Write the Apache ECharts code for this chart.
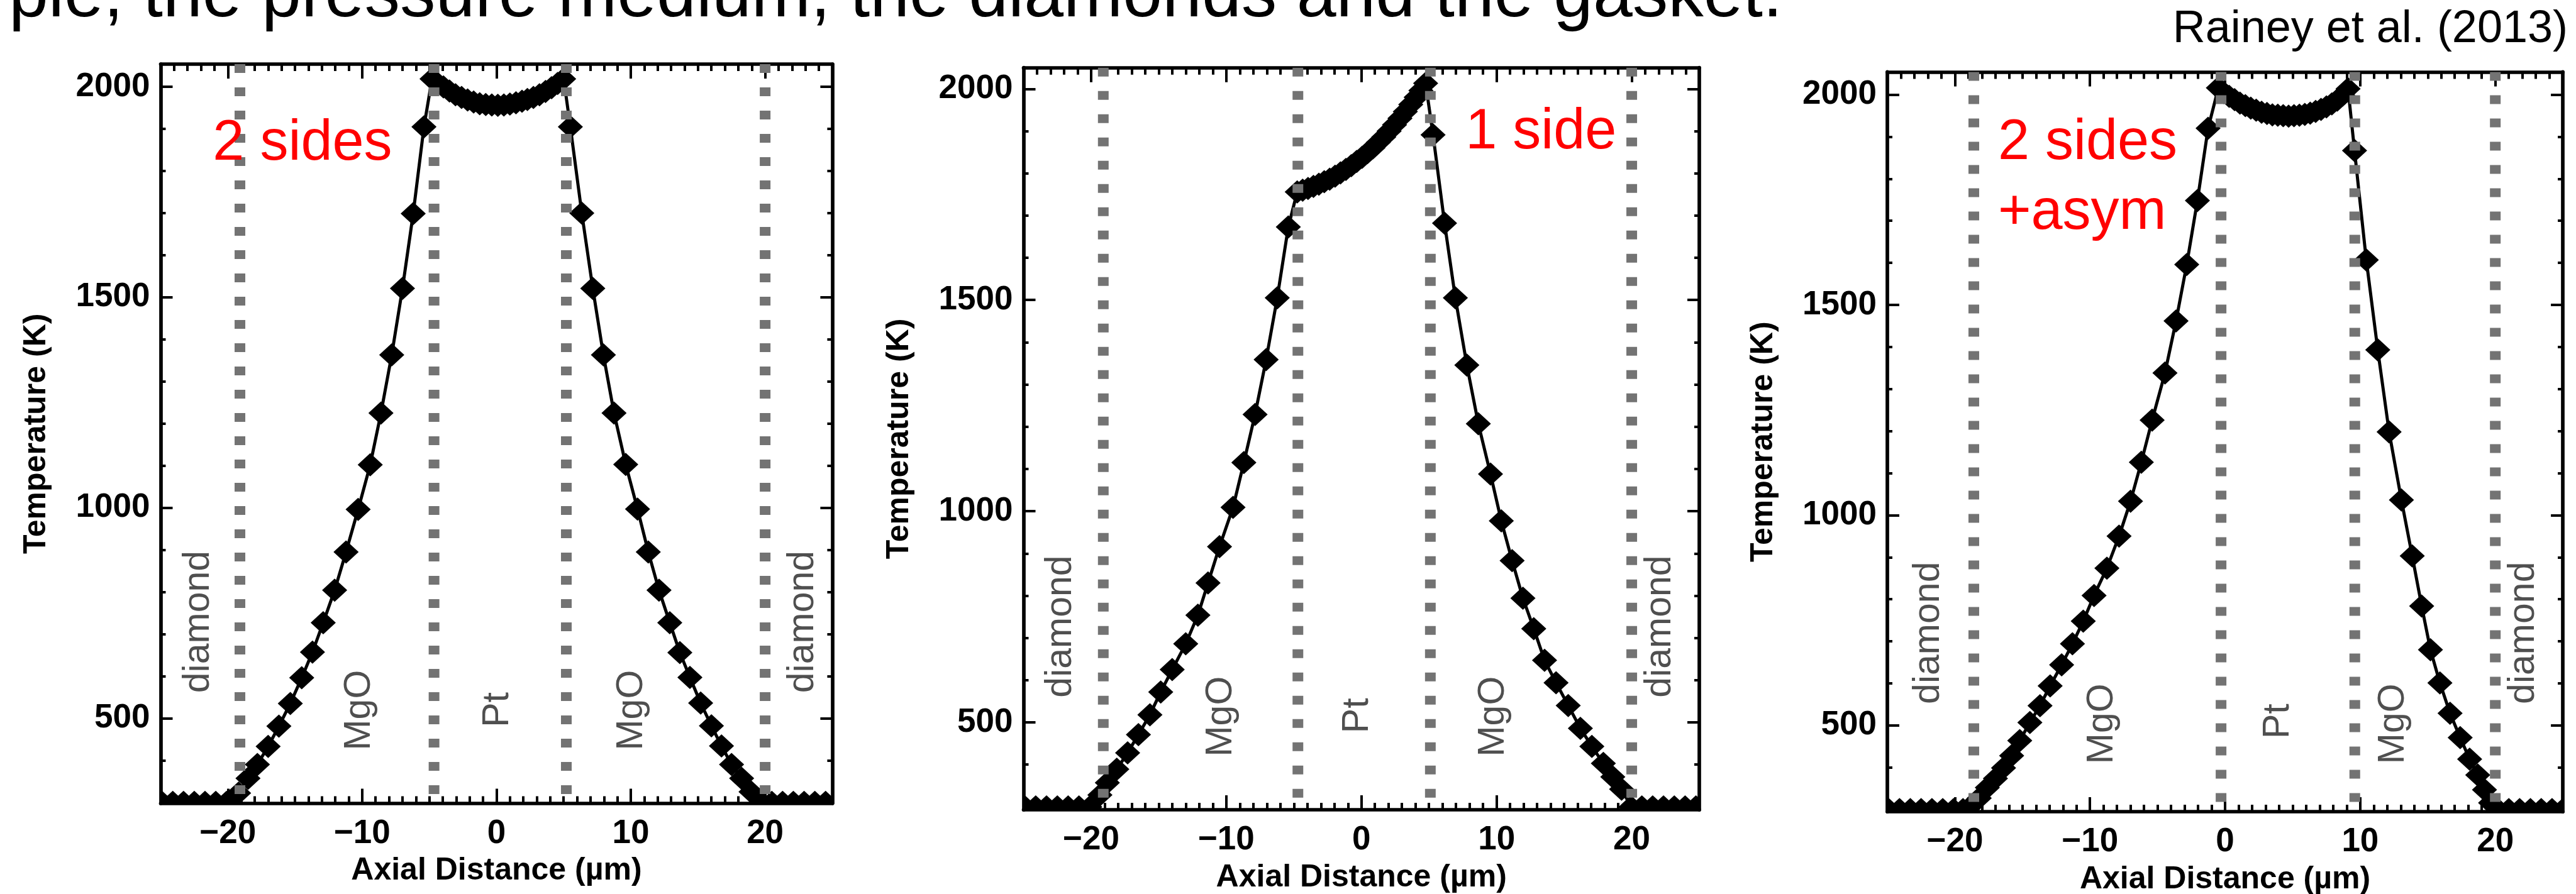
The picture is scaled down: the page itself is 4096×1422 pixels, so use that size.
<!DOCTYPE html>
<html><head><meta charset="utf-8">
<script src="https://cdn.jsdelivr.net/npm/echarts@6/dist/echarts.min.js"></script>
<style>html,body{margin:0;padding:0;background:#fff}#c{width:4096px;height:1422px}</style>
</head><body><div id="c"></div>
<script>
// ---------------- data ----------------
const xTickValues = [-20, -10, 0, 10, 20];
const yTickValues = [500, 1000, 1500, 2000];
const xTitle = 'Axial Distance (\u00b5m)';
const yTitle = 'Temperature (K)';
const regionNames = ['diamond', 'MgO', 'Pt', 'MgO', 'diamond'];

// panel 1 : "2 sides"
const xs1 = [-24.9,-24.1,-23.3,-22.5,-21.7,-20.9,-20.1,
  -19.2,-18.5,-17.8,-17.0,-16.2,-15.35,-14.5,-13.7,-12.9,-12.05,-11.2,-10.3,-9.4,-8.6,-7.8,-7.0,-6.2,-5.4,
  -4.8,-4.4,-3.95,-3.5,-3.05,-2.6,-2.15,-1.7,-1.25,-0.8,-0.35,0.1,0.55,1.0,1.45,1.9,2.3,2.75,3.2,3.65,4.1,4.55,5.0,
  5.5,6.35,7.17,7.96,8.75,9.62,10.5,11.3,12.1,12.9,13.65,14.4,15.2,16.0,16.75,17.5,18.25,18.95,
  19.7,20.5,21.3,22.1,22.9,23.7,24.5];
const temps1 = [300,300,300,300,300,300,300,
  322,357,390,433,481,535,596,657,727,804,895,996,1102,1225,1363,1521,1699,1905,
  2019,2009,2000,1990,1981,1975,1969,1964,1960,1958,1957,1956,1957,1959,1962,1966,1970,1975,1981,1989,1998,2008,2019,
  1905,1700,1521,1363,1225,1103,997,895,804,727,656,597,536,482,434,390,357,325,
  300,300,300,300,300,300,300];
const bounds1 = [-19.1, -4.65, 5.2, 20.0];
const regionX1 = [-22.2, -10.2, 0.1, 10.1, 22.8];
const regionT1 = [729, 519, 520, 519, 729];

// panel 2 : "1 side"
const xs2 = [-24.9,-24.1,-23.3,-22.5,-21.7,-20.9,-20.1,
  -19.35,-18.8,-18.1,-17.3,-16.5,-15.65,-14.85,-14.0,-13.0,-12.1,-11.35,-10.5,-9.5,-8.7,-7.87,-7.05,-6.23,-5.41,
  -4.75,-4.35,-3.95,-3.55,-3.15,-2.75,-2.35,-1.95,-1.55,-1.15,-0.75,-0.35,0.05,0.45,0.85,1.25,1.65,2.05,2.45,2.85,3.25,3.65,4.05,4.4,4.75,
  5.3,6.15,6.95,7.8,8.65,9.55,10.35,11.15,11.95,12.75,13.55,14.4,15.3,16.2,17.05,17.9,18.6,19.25,
  19.95,20.75,21.55,22.35,23.15,23.95,24.75];
const temps2 = [300,300,300,300,300,300,300,
  328,357,389,428,471,518,572,625,686,754,830,916,1009,1115,1229,1359,1505,1673,
  1756,1760,1764,1769,1774,1780,1786,1793,1801,1809,1818,1828,1838,1849,1860,1873,1886,1900,1915,1930,1946,1963,1980,1996,2013,
  1891,1682,1505,1346,1207,1088,977,883,794,722,647,594,540,486,443,403,371,342,
  300,300,300,300,300,300,300];
const bounds2 = [-19.1, -4.7, 5.1, 20.0];
const regionX2 = [-22.25, -10.36, -0.29, 9.78, 22.1];
const regionT2 = [727, 514, 516, 514, 727];

// panel 3 : "2 sides +asym"
const xs3 = [-24.9,-24.1,-23.3,-22.5,-21.7,-20.9,-20.1,-19.4,
  -18.8,-18.2,-17.6,-17.0,-16.4,-15.8,-15.2,-14.45,-13.7,-12.95,-12.1,-11.3,-10.5,-9.7,-8.75,-7.85,-7.0,-6.2,-5.4,-4.45,-3.63,-2.84,-2.05,-1.26,
  -0.5,-0.1,0.3,0.7,1.1,1.5,1.9,2.3,2.7,3.1,3.5,3.9,4.3,4.7,5.1,5.5,5.9,6.3,6.7,7.1,7.5,7.9,8.3,8.7,9.1,
  9.58,10.45,11.3,12.14,13.05,13.85,14.55,15.2,15.9,16.65,17.4,18.1,18.7,19.2,19.65,
  20.2,21.0,21.8,22.6,23.4,24.2,25.0];
const temps3 = [300,300,300,300,300,300,300,300,
  309,327,352,374,399,428,464,507,547,594,644,694,748,809,874,950,1033,1126,1226,1338,1462,1596,1748,1920,
  2016,2005,1996,1988,1980,1974,1968,1963,1958,1955,1952,1951,1950,1949,1950,1951,1953,1956,1960,1965,1971,1978,1987,1999,2014,
  1867,1607,1393,1198,1036,903,784,680,601,529,471,420,382,347,316,
  300,300,300,300,300,300,300];
const bounds3 = [-18.6, -0.3, 9.6, 20.0];
const regionX3 = [-21.96, -9.11, 3.92, 12.44, 22.1];
const regionT3 = [720, 504, 510, 504, 720];

// red annotations (text, x of left edge, T of baseline)
const notes1 = [['2 sides', -21.12, 1818]];
const notes2 = [['1 side', 7.70, 1850]];
const notes3 = [['2 sides', -16.81, 1837], ['+asym', -16.81, 1672]];

const titleText = 'ple, the pressure medium, the diamonds and the gasket.';
const sourceText = 'Rainey et al. (2013)';

// ---------------- layout / style ----------------
const FONT = '"Liberation Sans", Arial, Helvetica, sans-serif';
const MW = 40, MH = 37;            // diamond marker size
const LABEL_FS = 53, TITLE_FS = 50, REGION_FS = 59, NOTE_FS = 90;

const xMinorTicks = []; for (let v = -25; v <= 25; v++) xMinorTicks.push(v);
const yMinorTicks = []; for (let v = 300; v <= 2000; v += 100) yMinorTicks.push(v);

const panels = [
  {grid: {left: 255.5, top: 102.0, width: 1067.9, height: 1175.6}, yMin: 298, yMax: 2054,
   xs: xs1, ts: temps1, bounds: bounds1, rx: regionX1, rt: regionT1, notes: notes1},
  {grid: {left: 1627.5, top: 107.7, width: 1074.5, height: 1180.4}, yMin: 293, yMax: 2050,
   xs: xs2, ts: temps2, bounds: bounds2, rx: regionX2, rt: regionT2, notes: notes2},
  {grid: {left: 3001.0, top: 114.4, width: 1074.1, height: 1176.6}, yMin: 295, yMax: 2054,
   xs: xs3, ts: temps3, bounds: bounds3, rx: regionX3, rt: regionT3, notes: notes3}
];

const frameLine = {color: '#000', width: 5.7};
const tickStyle = {color: '#000', width: 4};
const fmtX = v => String(v).replace('-', '\u2212');
const fmtY = v => String(v);
const labelStyle = {fontSize: LABEL_FS, fontWeight: 'bold', fontFamily: FONT, color: '#000'};

const grids = [], xAxes = [], yAxes = [], series = [];

panels.forEach((p, g) => {
  grids.push(Object.assign({containLabel: false, outerBoundsMode: 'none'}, p.grid));
  const cx = {type: 'value', gridIndex: g, min: -25, max: 25, splitLine: {show: false}, axisPointer: {show: false}};
  const cy = {type: 'value', gridIndex: g, min: p.yMin, max: p.yMax, splitLine: {show: false}, axisPointer: {show: false}};
  const xMaj = {show: true, inside: true, length: 23, customValues: xTickValues, lineStyle: tickStyle};
  const xMin = {show: true, inside: true, length: 11, customValues: xMinorTicks, lineStyle: tickStyle};
  const yMaj = {show: true, inside: true, length: 19, customValues: yTickValues, lineStyle: tickStyle};
  const yMin = {show: true, inside: true, length: 8, customValues: yMinorTicks, lineStyle: tickStyle};
  xAxes.push(
    Object.assign({}, cx, {position: 'bottom', axisLine: {show: true, onZero: false, lineStyle: frameLine}, axisTick: xMaj,
      axisLabel: Object.assign({show: true, customValues: xTickValues, margin: 22, formatter: fmtX}, labelStyle),
      name: xTitle, nameLocation: 'middle', nameGap: 83,
      nameTextStyle: {fontSize: TITLE_FS, fontWeight: 'bold', fontFamily: FONT, color: '#000'}}),
    Object.assign({}, cx, {position: 'bottom', axisLine: {show: false, onZero: false}, axisTick: xMin, axisLabel: {show: false}}),
    Object.assign({}, cx, {position: 'top', axisLine: {show: true, onZero: false, lineStyle: frameLine}, axisTick: xMaj, axisLabel: {show: false}}),
    Object.assign({}, cx, {position: 'top', axisLine: {show: false, onZero: false}, axisTick: xMin, axisLabel: {show: false}})
  );
  yAxes.push(
    Object.assign({}, cy, {position: 'left', axisLine: {show: true, onZero: false, lineStyle: frameLine}, axisTick: yMaj,
      axisLabel: Object.assign({show: true, customValues: yTickValues, margin: 17, formatter: fmtY}, labelStyle),
      name: yTitle, nameLocation: 'middle', nameGap: 172, nameRotate: 90,
      nameTextStyle: {fontSize: TITLE_FS, fontWeight: 'bold', fontFamily: FONT, color: '#000'}}),
    Object.assign({}, cy, {position: 'left', axisLine: {show: false, onZero: false}, axisTick: yMin, axisLabel: {show: false}}),
    Object.assign({}, cy, {position: 'right', axisLine: {show: true, onZero: false, lineStyle: frameLine}, axisTick: yMaj, axisLabel: {show: false}}),
    Object.assign({}, cy, {position: 'right', axisLine: {show: false, onZero: false}, axisTick: yMin, axisLabel: {show: false}})
  );
  const xi = g * 4, yi = g * 4;
  const pts = p.xs.map((x, i) => [x, p.ts[i]]);
  series.push({
    type: 'line', xAxisIndex: xi, yAxisIndex: yi, data: pts, symbol: 'none', showSymbol: false,
    lineStyle: {color: '#000', width: 5}, clip: true, z: 2, silent: true
  });
  series.push({
    type: 'custom', xAxisIndex: xi, yAxisIndex: yi, data: pts, clip: true, z: 3, silent: true,
    renderItem: (params, api) => {
      const c = api.coord([api.value(0), api.value(1)]);
      const w = MW / 2, h = MH / 2;
      return {type: 'polygon', shape: {points: [[c[0], c[1] - h], [c[0] + w, c[1]], [c[0], c[1] + h], [c[0] - w, c[1]]]},
        style: {fill: '#000'}};
    }
  });
  series.push({
    type: 'custom', xAxisIndex: xi, yAxisIndex: yi, data: p.bounds.map(b => [b, p.yMax]), z: 4, silent: true,
    renderItem: (params, api) => {
      const a = api.coord([api.value(0), p.yMax]);
      const b = api.coord([api.value(0), p.yMin]);
      return {type: 'line', shape: {x1: a[0], y1: a[1], x2: b[0], y2: b[1]},
        style: {stroke: '#737373', lineWidth: 17, lineDash: [14, 23], lineCap: 'butt'}};
    }
  });
  series.push({
    type: 'custom', xAxisIndex: xi, yAxisIndex: yi, data: p.rx.map((x, i) => [x, p.rt[i]]), z: 5, silent: true,
    renderItem: (params, api) => {
      const c = api.coord([api.value(0), api.value(1)]);
      return {type: 'text', x: c[0], y: c[1], rotation: Math.PI / 2,
        style: {text: regionNames[params.dataIndex], fontSize: REGION_FS, fontFamily: FONT, fontWeight: 'normal',
          fill: '#4f4f4f', align: 'center', verticalAlign: 'middle'}};
    }
  });
  series.push({
    type: 'custom', xAxisIndex: xi, yAxisIndex: yi, data: p.notes.map(n => [n[1], n[2]]), z: 6, silent: true,
    renderItem: (params, api) => {
      const c = api.coord([api.value(0), api.value(1)]);
      return {type: 'text', x: c[0], y: c[1] - 0.3465 * NOTE_FS,
        style: {text: p.notes[params.dataIndex][0], fontSize: NOTE_FS, fontFamily: FONT, fill: '#ff0000',
          align: 'left', verticalAlign: 'middle'}};
    }
  });
});

const chart = echarts.init(document.getElementById('c'), null, {renderer: 'canvas'});
chart.setOption({
  animation: false,
  backgroundColor: '#ffffff',
  grid: grids, xAxis: xAxes, yAxis: yAxes, series: series,
  graphic: [
    {type: 'text', x: 14, y: 34 - 0.3465 * 113, silent: true,
     style: {text: titleText, fontSize: 113, fontFamily: FONT, fill: '#000', align: 'left', verticalAlign: 'middle'}},
    {type: 'text', x: 4083, y: 72.5 - 0.3465 * 72, silent: true,
     style: {text: sourceText, fontSize: 72, fontFamily: FONT, fill: '#000', align: 'right', verticalAlign: 'middle'}}
  ]
});
</script>
</body></html>
